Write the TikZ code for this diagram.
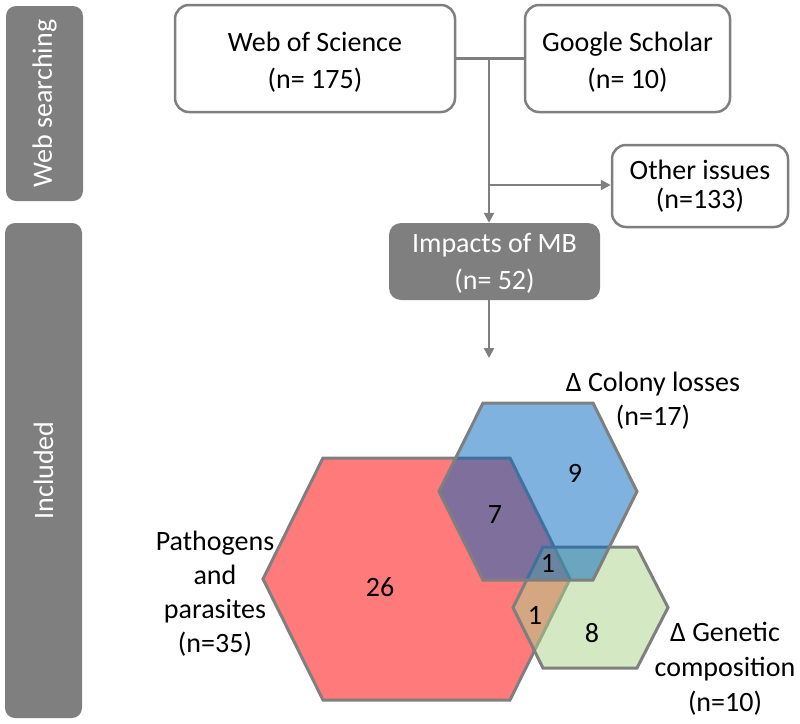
\documentclass[tikz,border=0pt]{standalone}
\usepackage{fontspec}
\setmainfont{Carlito}
\usetikzlibrary{arrows.meta}
\definecolor{gline}{HTML}{7F7F7F}
\definecolor{gfill}{HTML}{7F7F7F}
\definecolor{hred}{HTML}{FF7B7B}
\definecolor{hblue}{HTML}{0065BD}
\definecolor{hgreen}{HTML}{ABD189}
\begin{document}
\begin{tikzpicture}[x=1pt,y=-1pt,
  every node/.style={font=\fontsize{28}{36}\selectfont, inner sep=0pt},
  wbox/.style={draw=gline, line width=2.5pt, rounded corners=14pt, fill=white},
  dbox/.style={fill=gfill, rounded corners=12pt},
  side/.style={fill=gfill, rounded corners=10pt, text=white, rotate=90, minimum height=77pt},
  conn/.style={draw=gline, line width=2.8pt},
  arr/.style={conn, -{Triangle[length=10pt,width=10pt]}},
  hexa/.style={draw=gline, line width=3pt, line join=miter},
  lbl/.style={align=center, font=\fontsize{28}{34}\selectfont},
  btxt/.style={align=center, font=\fontsize{28}{37}\selectfont}
]
\useasboundingbox (0,0) rectangle (800,723);

% side bars
\node[side, minimum width=195pt] (s1) at (44.5,103.5) {Web searching};
\node[side, minimum width=495pt] (s2) at (43.5,470.5) {Included};

% boxes
\node[wbox, minimum width=280pt, minimum height=107pt] (wos) at (315,58.5) {};
\node[btxt] (wost) at ([yshift=-3.5pt]wos.center) {Web of Science\\(n= 175)};
\node[wbox, minimum width=205pt, minimum height=107pt] (gs) at (627.5,58.5) {};
\node[btxt] (gst) at ([yshift=-3.5pt]gs.center) {Google Scholar\\(n= 10)};
\node[wbox, minimum width=176pt, minimum height=82pt] (oth) at (700,186) {};
\node[btxt, font=\fontsize{28}{29}\selectfont] (otht) at ([yshift=-0.5pt]oth.center) {Other issues\\(n=133)};
\node[dbox, minimum width=211pt, minimum height=77pt] (imp) at (494.5,261.5) {};
\node[btxt, text=white] (impt) at ([yshift=-1.5pt]imp.center) {Impacts of MB\\(n= 52)};

% connectors
\coordinate (j) at (489,58.5);
\coordinate (b) at (489,185);
\coordinate (vend) at (489,358);
\draw[conn] (wos.east) -- (gs.west);
\draw[arr] (j) -- (j |- imp.north);
\draw[arr] (b) -- (b -| oth.west);
\draw[arr] (j |- imp.south) -- (vend);

% hexagons
\filldraw[hexa, fill=hred] (263,579) -- (323,458) -- (510,458) -- (570,579) -- (510,700) -- (323,700) -- cycle;
\filldraw[hexa, fill=hgreen, fill opacity=0.5] (513,607.5) -- (543,547) -- (637,547) -- (668,607.5) -- (637,668) -- (543,668) -- cycle;
\filldraw[hexa, fill=hblue, fill opacity=0.5] (439,491.5) -- (483,403) -- (593,403) -- (637,491.5) -- (593,580) -- (483,580) -- cycle;

% labels
\node[lbl] (lc) at (653,400.5) {Δ Colony losses\\(n=17)};
\node[lbl] (lp) at (215,594) {Pathogens\\and\\parasites\\(n=35)};
\node[lbl, font=\fontsize{28}{35}\selectfont] (lg) at (725,668.5) {Δ Genetic\\composition\\(n=10)};
\node (n26) at (380,587) {26};
\node (n7) at (495,515) {7};
\node (n9) at (575,473) {9};
\node (n1a) at (548,563) {1};
\node (n1b) at (535,615) {1};
\node (n8) at (592,633) {8};
\end{tikzpicture}
\end{document}
